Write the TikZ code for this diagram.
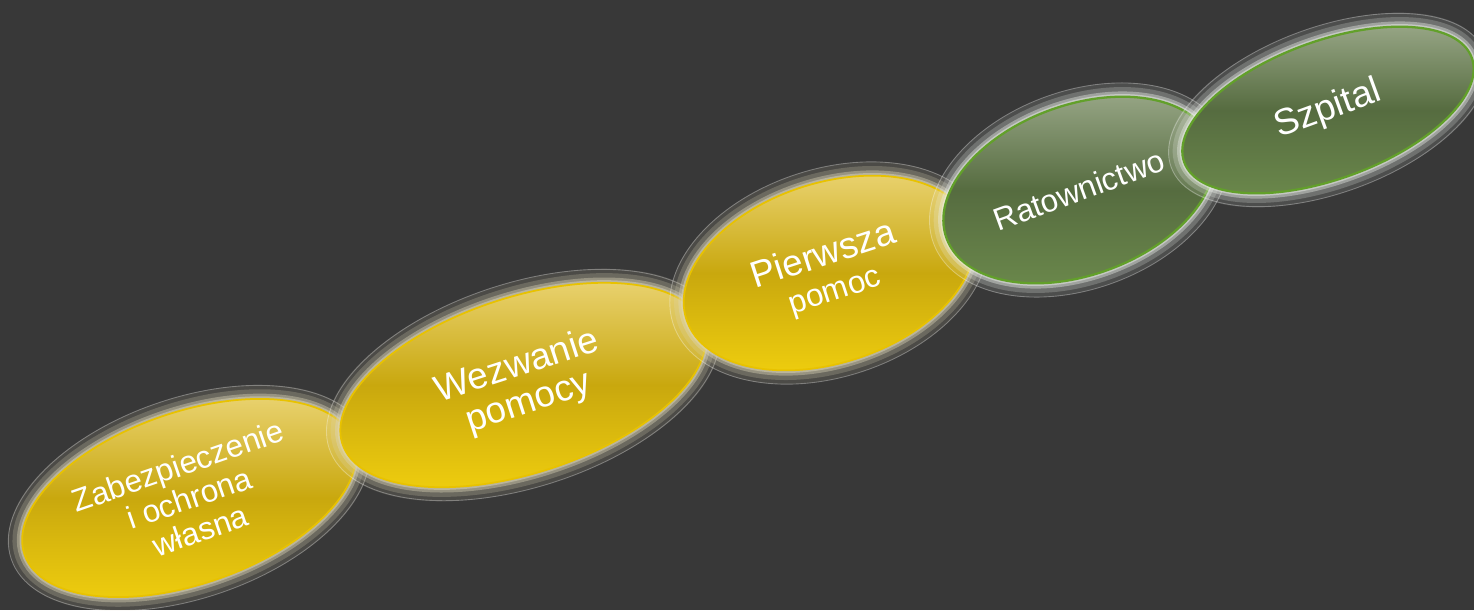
\documentclass[tikz,border=0pt]{standalone}
\usepackage{fontspec}
\setmainfont{Liberation Sans}
\usetikzlibrary{shapes.geometric}
\definecolor{tlo}{HTML}{383838}
\definecolor{zlotygora}{HTML}{ECD67A}
\definecolor{zlotysrodek}{HTML}{C9A80E}
\definecolor{zlotydol}{HTML}{F2D10E}
\definecolor{zlotyobrys}{HTML}{E8C200}
\definecolor{zielgora}{HTML}{9DAB8C}
\definecolor{zielsrodek}{HTML}{566C40}
\definecolor{zieldol}{HTML}{6C8A4C}
\definecolor{zielobrys}{HTML}{62A02A}
\definecolor{poswiata}{HTML}{DDD6B8}
\tikzset{
  halo/.style={preaction={draw=#1, line width=16pt, draw opacity=.12},
               preaction={draw=#1, line width=11pt, draw opacity=.22},
               preaction={draw=#1, line width=6pt, draw opacity=.4},
               preaction={draw=#1, line width=3pt, draw opacity=.5}},
  owal/.style={ellipse, inner sep=0pt, text=white, align=center},
  zolty/.style={owal, halo=poswiata, draw=zlotyobrys, line width=1pt,
                top color=zlotygora, bottom color=zlotydol, middle color=zlotysrodek},
  zielony/.style={owal, halo=white!80!zielgora, draw=zielobrys, line width=1.3pt,
                  top color=zielgora, bottom color=zieldol, middle color=zielsrodek},
  obwodka/.style={draw=white, draw opacity=.3, line width=.5pt}
}

\begin{document}
\begin{tikzpicture}[x=0.02cm, y=-0.02cm]
	\useasboundingbox (0,0) rectangle (1474,610);
	\fill[tlo] (0,0) rectangle (1474,610);

	% lancuch przetrwania
	\node[zolty, rotate=19, minimum width=6.96cm, minimum height=3.44cm,
	      font=\fontsize{18}{19.5}\selectfont] (zab) at (189,498) {Zabezpieczenie\\ i ochrona\\ własna};
	\draw[obwodka, rotate around={19:(zab.center)}] (zab.center) ellipse [x radius=3.76cm, y radius=2cm];

	\node[zolty, rotate=18, minimum width=7.6cm, minimum height=3.52cm,
	      font=\fontsize{21}{21.5}\selectfont] (wez) at (523,385) {Wezwanie\\ pomocy};
	\draw[obwodka, rotate around={18:(wez.center)}] (wez.center) ellipse [x radius=4.08cm, y radius=2.04cm];

	\node[zolty, rotate=18, minimum width=6cm, minimum height=3.6cm,
	      font=\fontsize{21}{20.5}\selectfont] (pie) at (829,273) {Pierwsza\\ {\fontsize{18}{20.5}\selectfont pomoc}};
	\draw[obwodka, rotate around={18:(pie.center)}] (pie.center) ellipse [x radius=3.28cm, y radius=2.08cm];

	\node[zielony, rotate=20, minimum width=5.64cm, minimum height=3.4cm,
	      font=\fontsize{18}{19}\selectfont] (rat) at (1079,190) {Ratownictwo};
	\draw[obwodka, rotate around={20:(rat.center)}] (rat.center) ellipse [x radius=3.1cm, y radius=1.98cm];

	\node[zielony, rotate=20, minimum width=6.12cm, minimum height=2.76cm,
	      font=\fontsize{21}{21}\selectfont] (szp) at (1328,110) {Szpital};
	\draw[obwodka, rotate around={20:(szp.center)}] (szp.center) ellipse [x radius=3.34cm, y radius=1.66cm];
\end{tikzpicture}
\end{document}
